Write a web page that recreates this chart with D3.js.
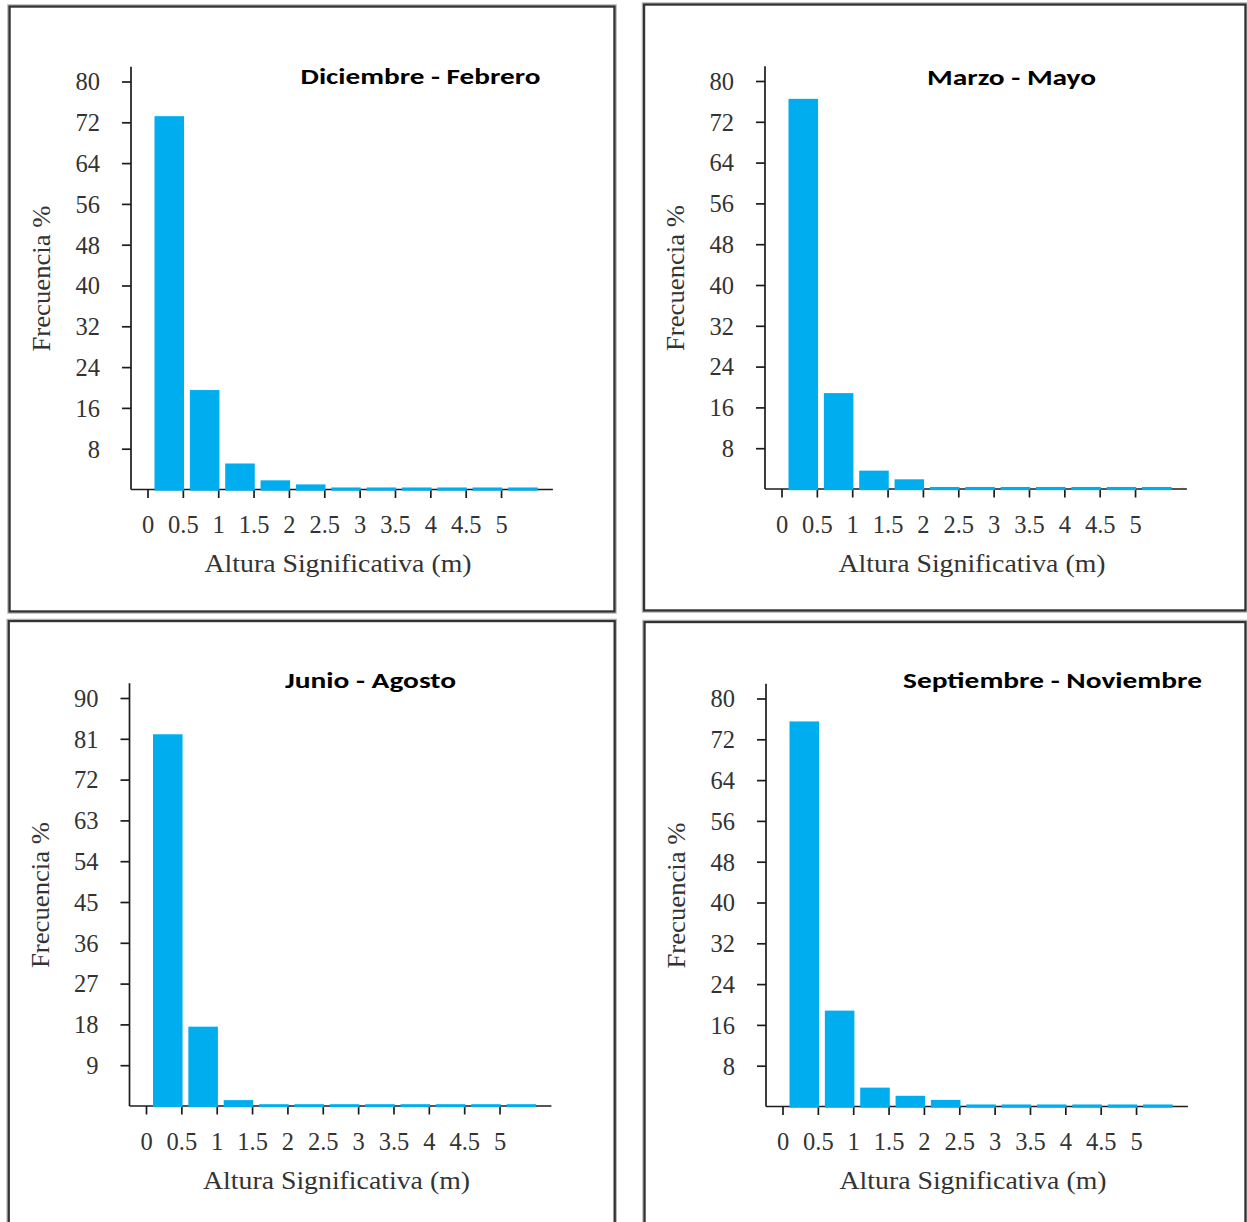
<!DOCTYPE html>
<html>
<head>
<meta charset="utf-8">
<script src="https://cdn.jsdelivr.net/npm/d3@7"></script>
<style>
  html, body { margin: 0; padding: 0; background: #ffffff; }
  svg { display: block; }
</style>
</head>
<body>
<svg id="chart" width="1247" height="1222"></svg>
<script>
// Significant wave height classes: lower edge (m) of each 0.5 m bin
const binStarts = [0, 0.5, 1, 1.5, 2, 2.5, 3, 3.5, 4, 4.5, 5];
const xTickValues = [0, 0.5, 1, 1.5, 2, 2.5, 3, 3.5, 4, 4.5, 5];
const xTickLabels = ["0", "0.5", "1", "1.5", "2", "2.5", "3", "3.5", "4", "4.5", "5"];

// Season names (panel titles)
const seasons = ["Diciembre - Febrero", "Marzo - Mayo", "Junio - Agosto", "Septiembre - Noviembre"];

// Frequency (%) of each height class, one array per season
const freqDicFeb = [73.2, 19.5, 5.1, 1.8, 1.0, 0.4, 0.4, 0.4, 0.4, 0.4, 0.4];
const freqMarMay = [76.5, 18.8, 3.6, 1.9, 0.4, 0.4, 0.4, 0.4, 0.4, 0.4, 0.4];
const freqJunAgo = [82.0, 17.5, 1.3, 0.4, 0.4, 0.4, 0.4, 0.4, 0.4, 0.4, 0.4];
const freqSepNov = [75.5, 18.8, 3.7, 2.1, 1.3, 0.4, 0.4, 0.4, 0.4, 0.4, 0.4];

// Y-axis ticks and upper limits
const yTicksBy8 = [8, 16, 24, 32, 40, 48, 56, 64, 72, 80];
const yTicksBy9 = [9, 18, 27, 36, 45, 54, 63, 72, 81, 90];
const yLimits = [80, 80, 90, 80];

const xLabel = "Altura Significativa (m)";
const yLabel = "Frecuencia %";

const seriesBySeason = [freqDicFeb, freqMarMay, freqJunAgo, freqSepNov];
const ticksBySeason = [yTicksBy8, yTicksBy8, yTicksBy9, yTicksBy8];

// Panel layout: frame box, axis origin, title anchor and width
const panels = [
  { frame: [9.5, 6.5, 605, 605],   ox: 131,   oy: 489.5, tx: 420.5,  ty: 83.5, tw: 240 },
  { frame: [644, 4.5, 601.5, 606], ox: 765,   oy: 489,   tx: 1011.5, ty: 85,   tw: 169 },
  { frame: [8.7, 621, 606, 610],   ox: 129.5, oy: 1106,  tx: 370.5,  ty: 687.5, tw: 171 },
  { frame: [644.5, 622, 601, 610], ox: 766,   oy: 1106.5, tx: 1052.5, ty: 688,  tw: 299 }
];

const BAR = "#00aeef";
const INK = "#1c1c1c";
const TEXT = "#333333";
const SERIF = "'Liberation Serif', 'Times New Roman', serif";

const svg = d3.select("#chart");

panels.forEach((p, i) => {
  const g = svg.append("g");
  const [fx, fy, fw, fh] = p.frame;

  // framed box with a soft halo
  g.append("rect")
    .attr("x", fx - 1.8).attr("y", fy - 1.8)
    .attr("width", fw + 3.6).attr("height", fh + 3.6)
    .attr("fill", "none").attr("stroke", "#b8b8b8").attr("stroke-width", 1);
  g.append("rect")
    .attr("x", fx).attr("y", fy).attr("width", fw).attr("height", fh)
    .attr("fill", "none").attr("stroke", "#333").attr("stroke-width", 2.4);

  const x = d3.scaleLinear().domain([0, 5.5]).range([p.ox + 16.5, p.ox + 405.4]);
  const y = d3.scaleLinear().domain([0, yLimits[i]]).range([p.oy, p.oy - 408]);
  const pad = 16.5;

  // axis lines
  g.append("line")
    .attr("x1", p.ox).attr("x2", x.range()[1] + pad)
    .attr("y1", p.oy).attr("y2", p.oy)
    .attr("stroke", INK).attr("stroke-width", 1.7);
  g.append("line")
    .attr("x1", p.ox).attr("x2", p.ox)
    .attr("y1", p.oy).attr("y2", y.range()[1] - 14.7)
    .attr("stroke", INK).attr("stroke-width", 1.7);

  // x ticks + labels
  const xAxis = g.append("g")
    .attr("transform", `translate(0,${p.oy})`)
    .call(d3.axisBottom(x).tickValues(xTickValues).tickSize(8.5)
      .tickFormat((d, k) => xTickLabels[k]));
  xAxis.select(".domain").remove();
  xAxis.selectAll(".tick line").attr("stroke", INK).attr("stroke-width", 1.7);
  xAxis.selectAll(".tick text")
    .attr("y", 43.5).attr("dy", 0)
    .attr("fill", TEXT)
    .style("font-family", SERIF).style("font-size", "24.5px");

  // y ticks + labels
  const yAxis = g.append("g")
    .attr("transform", `translate(${p.ox},0)`)
    .call(d3.axisLeft(y).tickValues(ticksBySeason[i]).tickSize(9));
  yAxis.select(".domain").remove();
  yAxis.selectAll(".tick line").attr("stroke", INK).attr("stroke-width", 1.7);
  yAxis.selectAll(".tick text")
    .attr("x", -31).attr("dy", "0.34em")
    .attr("fill", TEXT)
    .style("font-family", SERIF).style("font-size", "24.5px");

  // histogram bars
  g.append("g").selectAll("rect")
    .data(binStarts.map((b, k) => ({ b, v: seriesBySeason[i][k] })))
    .join("rect")
    .attr("x", d => x(d.b) + 7)
    .attr("width", d => x(d.b + 0.5) - x(d.b) - 5.8)
    .attr("y", d => y(d.v))
    .attr("height", d => y(0) - y(d.v) + 1.2)
    .attr("fill", BAR);

  // axis titles
  g.append("text")
    .attr("x", p.ox + 207).attr("y", p.oy + 82.5)
    .attr("text-anchor", "middle")
    .attr("textLength", 267).attr("lengthAdjust", "spacingAndGlyphs")
    .attr("fill", TEXT)
    .style("font-family", SERIF).style("font-size", "24.5px")
    .text(xLabel);

  g.append("text")
    .attr("transform", `translate(${p.ox - 81},${p.oy - 211}) rotate(-90)`)
    .attr("text-anchor", "middle")
    .attr("textLength", 146).attr("lengthAdjust", "spacingAndGlyphs")
    .attr("fill", TEXT)
    .style("font-family", SERIF).style("font-size", "24.5px")
    .text(yLabel);

  // season title
  g.append("text")
    .attr("x", p.tx).attr("y", p.ty)
    .attr("text-anchor", "middle")
    .attr("textLength", p.tw).attr("lengthAdjust", "spacingAndGlyphs")
    .attr("fill", "#000")
    .style("font-family", "Carlito, Lato, 'Open Sans', sans-serif")
    .style("font-weight", 700).style("font-size", "22px")
    .text(seasons[i]);
});
</script>
</body>
</html>
